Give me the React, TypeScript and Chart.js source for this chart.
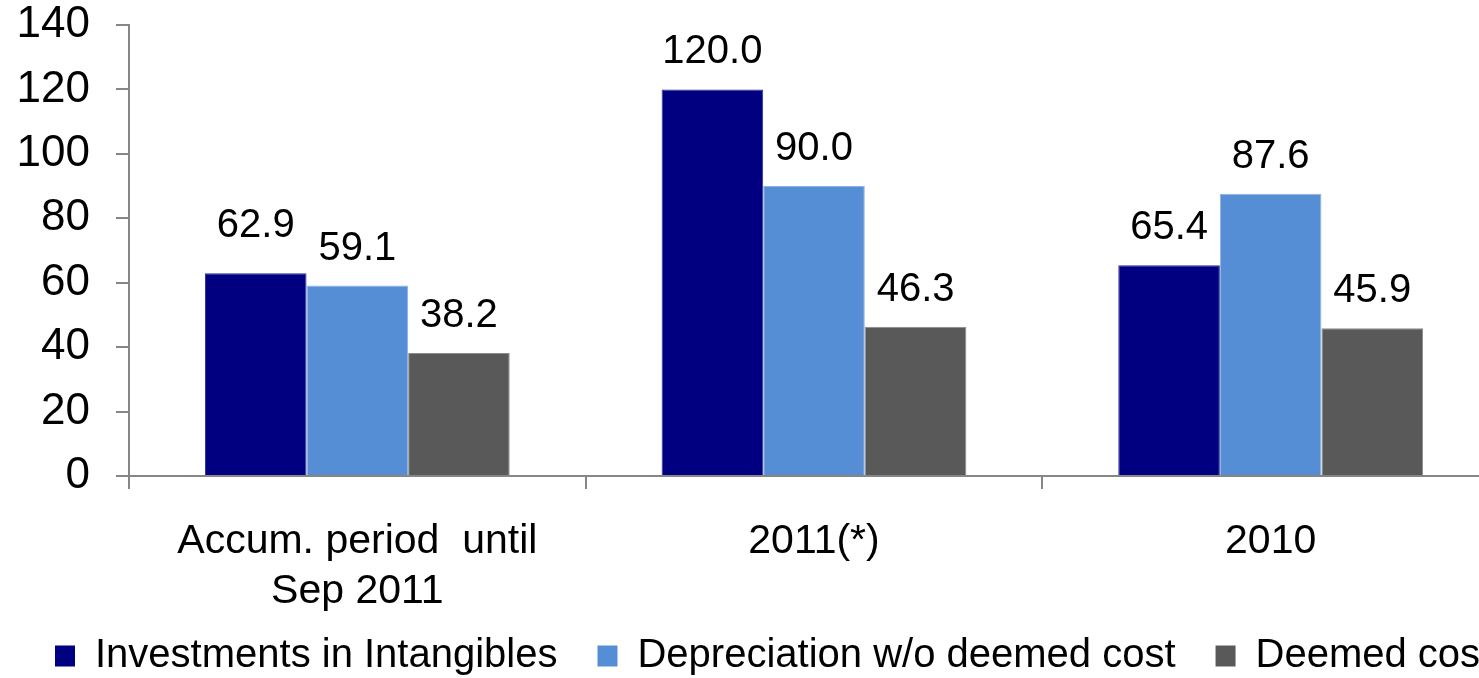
import React, { useEffect, useRef } from "react";
import { Chart, registerables } from "chart.js";

Chart.register(...registerables);

const FONT = "'Liberation Sans', Arial, sans-serif";
const AXIS_GREY = "#868686";

const categories = [["Accum. period  until", "Sep 2011"], "2011(*)", "2010"];
const seriesNames = [
  "Investments in Intangibles",
  "Depreciation w/o deemed cost",
  "Deemed cost",
];
const investments = [62.9, 120.0, 65.4];
const depreciation = [59.1, 90.0, 87.6];
const deemedCost = [38.2, 46.3, 45.9];
const yTicks = [0, 20, 40, 60, 80, 100, 120, 140];

const fills = ["#000080", "#558ED5", "#595959"];
const edges = ["#2B2B95", "#8DB3E2", "#8C8C8C"];

// Writes each bar's value above it, one decimal place.
const valueLabels = {
  id: "valueLabels",
  afterDatasetsDraw(chart: any) {
    const ctx = chart.ctx;
    ctx.save();
    ctx.font = `40px ${FONT}`;
    ctx.fillStyle = "#000000";
    ctx.textAlign = "center";
    ctx.textBaseline = "alphabetic";
    chart.data.datasets.forEach((ds: any, di: number) => {
      const meta = chart.getDatasetMeta(di);
      meta.data.forEach((bar: any, i: number) => {
        const v = ds.data[i] as number;
        const lift = di === 0 && i === 0 ? 36 : 26;
        ctx.fillText(v.toFixed(1), bar.x, bar.y - lift);
      });
    });
    ctx.restore();
  },
};

// Pulls the legend up into the spare room under the two-line category label.
const legendNudge = {
  id: "legendNudge",
  afterLayout(chart: any) {
    if (chart.legend) {
      chart.legend.top -= 20;
      chart.legend.bottom -= 20;
    }
  },
};

export default function App() {
  const ref = useRef<HTMLCanvasElement>(null);

  useEffect(() => {
    if (!ref.current) return;
    const series = [investments, depreciation, deemedCost];
    const chart = new Chart(ref.current, {
      type: "bar",
      data: {
        labels: categories as any,
        datasets: series.map((values, k) => ({
          label: seriesNames[k],
          data: values,
          backgroundColor: fills[k],
          borderColor: edges[k],
          borderWidth: 1,
          barPercentage: 1,
          categoryPercentage: 0.6674,
        })),
      },
      options: {
        responsive: false,
        animation: false,
        devicePixelRatio: 1,
        layout: { padding: { left: 15, top: 25, right: 0, bottom: 0 } },
        plugins: {
          tooltip: { enabled: false },
          legend: {
            position: "bottom",
            align: "start",
            labels: {
              color: "#000000",
              font: { family: FONT, size: 40 },
              boxWidth: 20,
              boxHeight: 21,
              padding: 40,
              generateLabels: (c: any) =>
                Chart.defaults.plugins.legend.labels
                  .generateLabels(c)
                  .map((item: any) => ({ ...item, lineWidth: 0 })),
            },
          },
        },
        scales: {
          x: {
            afterFit: (scale: any) => {
              scale.height = 140;
            },
            grid: {
              offset: true,
              drawOnChartArea: false,
              tickLength: 13,
              color: AXIS_GREY,
              lineWidth: 2,
            },
            border: { color: AXIS_GREY, width: 2 },
            ticks: {
              color: "#000000",
              padding: 28,
              maxRotation: 0,
              autoSkip: false,
              font: { family: FONT, size: 41, lineHeight: 1.22 },
            },
          },
          y: {
            min: 0,
            max: 140,
            afterFit: (scale: any) => {
              scale.width = 114;
              scale.paddingTop = 0;
              scale.paddingBottom = 0;
            },
            afterBuildTicks: (scale: any) => {
              scale.ticks = yTicks.map((v) => ({ value: v }));
            },
            grid: {
              drawOnChartArea: false,
              tickLength: 13,
              color: AXIS_GREY,
              lineWidth: 2,
            },
            border: { color: AXIS_GREY, width: 2 },
            ticks: {
              color: "#000000",
              padding: 26,
              font: { family: FONT, size: 44, lineHeight: 1 },
            },
          },
          // empty right-hand gutter: the plot stops short of the legend's full width
          gutter: {
            type: "linear",
            position: "right",
            display: true,
            afterFit: (scale: any) => {
              scale.width = 61;
              scale.paddingTop = 0;
              scale.paddingBottom = 0;
            },
            grid: { display: false },
            border: { display: false },
            ticks: { display: false },
          },
        },
      },
      plugins: [valueLabels, legendNudge],
    });
    return () => chart.destroy();
  }, []);

  return (
    <div
      style={{
        position: "absolute",
        left: 0,
        top: 0,
        width: 1479,
        height: 678,
        overflow: "hidden",
        background: "#ffffff",
      }}
    >
      <canvas
        ref={ref}
        width={1560}
        height={706}
        style={{ display: "block", width: 1560, height: 706 }}
      />
    </div>
  );
}
